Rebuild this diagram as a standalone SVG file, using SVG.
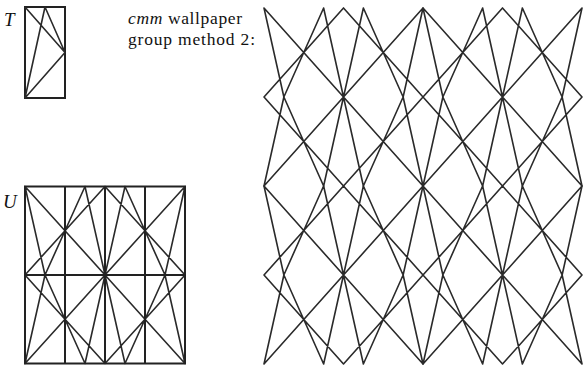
<svg xmlns="http://www.w3.org/2000/svg" xmlns:xlink="http://www.w3.org/1999/xlink" width="584" height="369" viewBox="0 0 584 369">
<style>
.ln{fill:none;stroke:#2a2a2a;stroke-width:1.6;stroke-linecap:round;stroke-linejoin:round;vector-effect:non-scaling-stroke}
.grid{fill:none;stroke:#222;stroke-width:2}
.lbl{font-family:"Liberation Serif","DejaVu Serif",serif;fill:#111}
</style>
<defs>
<path id="u" class="ln" d="M0,0L40,1M0,2L40,1M20,2L0,0M20,2L40,1
M80,2L40,1M80,0L40,1M60,0L80,2M60,0L40,1
M80,2L120,1M80,0L120,1M100,0L80,2M100,0L120,1
M160,0L120,1M160,2L120,1M140,2L160,0M140,2L120,1
M0,4L40,3M0,2L40,3M20,2L0,4M20,2L40,3
M80,2L40,3M80,4L40,3M60,4L80,2M60,4L40,3
M80,2L120,3M80,4L120,3M100,4L80,2M100,4L120,3
M160,4L120,3M160,2L120,3M140,2L160,4M140,2L120,3"/>
</defs>
<g id="labels">
<text class="lbl" x="4" y="26" font-size="19" font-style="italic">T</text>
<text class="lbl" x="3" y="208" font-size="19" font-style="italic">U</text>
<text class="lbl" x="128" y="24" font-size="17.5" textLength="114" lengthAdjust="spacing"><tspan font-style="italic">cmm</tspan> wallpaper</text>
<text class="lbl" x="128" y="45" font-size="17.5" textLength="127" lengthAdjust="spacing">group method 2:</text>
</g>
<g id="tile-T">
<rect class="grid" x="25" y="7" width="40" height="91"/>
<path class="ln" d="M25,7L65,52.5M45,7L25,98M45,7L65,52.5M25,98L65,52.5"/>
</g>
<g id="tile-U">
<use xlink:href="#u" href="#u" transform="translate(25,186.5) scale(1,44.25)"/>
<path class="grid" d="M25,186.5H185V363.5H25ZM65,186.5V363.5M105,186.5V363.5M145,186.5V363.5M25,275H185"/>
</g>
<g id="pattern">
<use xlink:href="#u" href="#u" transform="translate(264,8) scale(0.99375,44.5)"/>
<use xlink:href="#u" href="#u" transform="translate(423,8) scale(0.99375,44.5)"/>
<use xlink:href="#u" href="#u" transform="translate(264,186) scale(0.99375,44.5)"/>
<use xlink:href="#u" href="#u" transform="translate(423,186) scale(0.99375,44.5)"/>
</g>
</svg>
